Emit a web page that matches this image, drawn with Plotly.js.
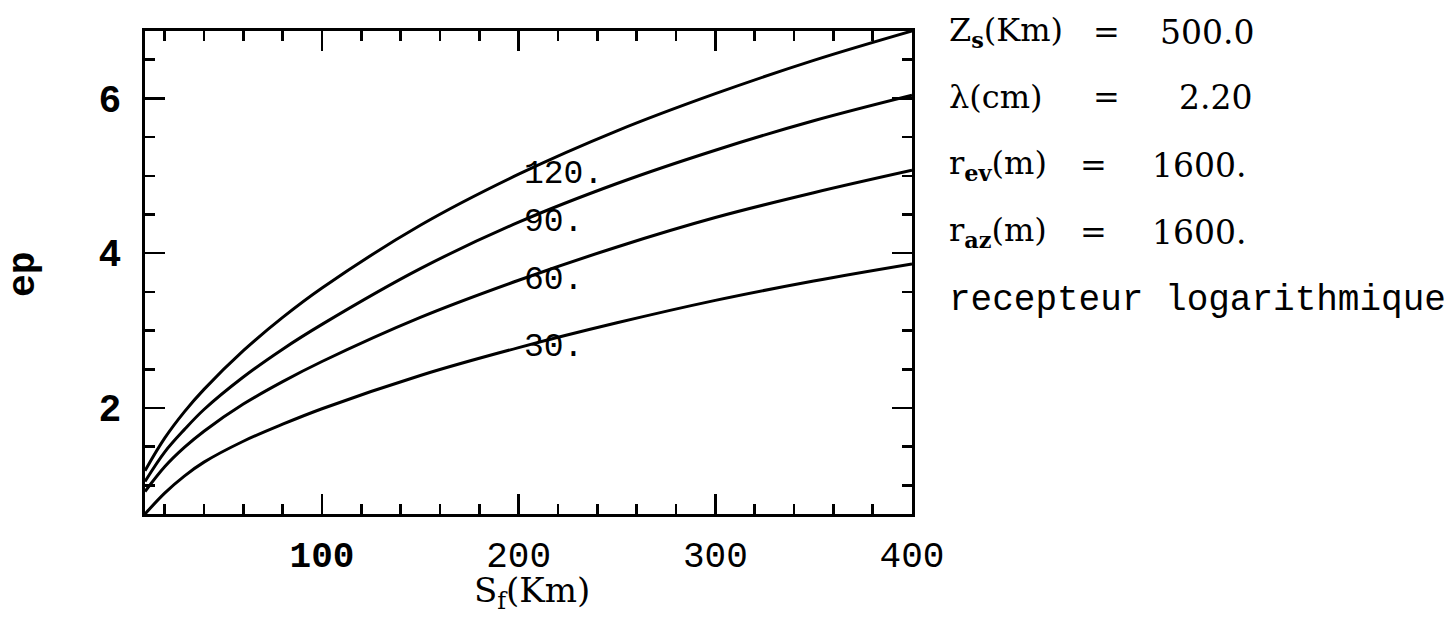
<!DOCTYPE html>
<html>
<head>
<meta charset="utf-8">
<script src="https://cdn.plot.ly/plotly-3.0.1.min.js"></script>
<style>
  html, body { margin: 0; padding: 0; background: #fff; }
  #chart { width: 1452px; height: 618px; }
</style>
</head>
<body>
<div id="chart"></div>
<script>
// Distance along the ground S_f (km)
const sf = [10, 20, 30, 40, 60, 80, 100, 150, 200, 250, 300, 350, 400];

// ep for each incidence setting (curve labels 120., 90., 60., 30.)
const ep120 = [1.19, 1.61, 1.95, 2.24, 2.74, 3.17, 3.55, 4.36, 5.02, 5.58, 6.06, 6.49, 6.87];
const ep90  = [1.05, 1.43, 1.72, 1.98, 2.40, 2.76, 3.08, 3.80, 4.40, 4.90, 5.33, 5.71, 6.04];
const ep60  = [0.92, 1.24, 1.49, 1.70, 2.05, 2.34, 2.60, 3.17, 3.65, 4.08, 4.46, 4.78, 5.07];
const ep30  = [0.63, 0.90, 1.12, 1.30, 1.57, 1.79, 1.99, 2.42, 2.78, 3.10, 3.39, 3.64, 3.86];

const curveLabels = ['120.', '90.', '60.', '30.'];
const curveSeries = [ep120, ep90, ep60, ep30];
const labelAt = 200;  // S_f where each curve carries its label

const xTickVals = [100, 200, 300, 400];
const xTickText = ['<b>100</b>', '200', '300', '400'];
const yTickVals = [2, 4, 6];
const yTickText = ['<b>2</b>', '<b>4</b>', '<b>6</b>'];

// Parameter block printed to the right of the frame
const paramNames  = ['Z<sub><b>s</b></sub>(Km)', 'λ(cm)', 'r<sub><b>ev</b></sub>(m)', 'r<sub><b>az</b></sub>(m)'];
const paramValues = ['500.0', '2.20', '1600.', '1600.'];
const footnote = 'recepteur logarithmique';

const mono = 'Liberation Mono, Courier New, monospace';
const serif = 'DejaVu Serif, Liberation Serif, serif';

const traces = curveSeries.map((ys, i) => ({
  x: sf, y: ys, type: 'scatter', mode: 'lines', name: curveLabels[i],
  line: { color: '#000', width: 3, shape: 'spline', smoothing: 1 },
  hoverinfo: 'skip'
}));

const annotations = [];
const iLab = sf.indexOf(labelAt);
curveSeries.forEach((ys, i) => {
  annotations.push({
    x: labelAt, y: ys[iLab], xref: 'x', yref: 'y',
    text: curveLabels[i], showarrow: false,
    xanchor: 'left', yanchor: 'middle', xshift: 3,
    font: { family: mono, size: 33, color: '#000' }
  });
});

// Parameter lines: name, '=', value placed in columns (page pixels -> paper fractions)
const L = 145, R = 912, T = 31, B = 514;
const px = v => (v - L) / (R - L);
const py = v => (B - v) / (B - T);
const rowY = [32, 97, 165, 232];
const eqX = [1106, 1106, 1093, 1093];
const valX = [1158, 1177, 1150, 1150];
const sideFont = { family: serif, size: 32, color: '#000' };
paramNames.forEach((nm, i) => {
  annotations.push({ x: px(947), y: py(rowY[i]), xref: 'paper', yref: 'paper', text: nm,
    showarrow: false, xanchor: 'left', yanchor: 'middle', font: sideFont });
  annotations.push({ x: px(eqX[i]), y: py(rowY[i]), xref: 'paper', yref: 'paper', text: '=',
    showarrow: false, xanchor: 'center', yanchor: 'middle', font: sideFont });
  annotations.push({ x: px(valX[i]), y: py(rowY[i]), xref: 'paper', yref: 'paper', text: paramValues[i],
    showarrow: false, xanchor: 'left', yanchor: 'middle', font: { family: serif, size: 33, color: '#000' } });
});
annotations.push({ x: px(947), y: py(300), xref: 'paper', yref: 'paper', text: footnote,
  showarrow: false, xanchor: 'left', yanchor: 'middle', font: { family: mono, size: 36, color: '#000' } });

// Axis titles
annotations.push({ x: px(532), y: py(592), xref: 'paper', yref: 'paper', text: 'S<sub>f</sub>(Km)',
  showarrow: false, xanchor: 'center', yanchor: 'middle', font: { family: serif, size: 34, color: '#000' } });
annotations.push({ x: px(23), y: py(274), xref: 'paper', yref: 'paper', text: '<b>ep</b>', textangle: -90,
  showarrow: false, xanchor: 'center', yanchor: 'middle', font: { family: mono, size: 38, color: '#000' } });

const axisCommon = {
  showline: true, linecolor: '#000', linewidth: 3, mirror: 'allticks',
  ticks: 'inside', ticklen: 20, tickwidth: 2.5, tickcolor: '#000',
  showgrid: false, zeroline: false, fixedrange: true
};

const layout = {
  width: 1452, height: 618,
  margin: { l: L, r: 1452 - R, t: T, b: 618 - B },
  paper_bgcolor: '#fff', plot_bgcolor: '#fff',
  showlegend: false,
  xaxis: Object.assign({}, axisCommon, {
    range: [10, 400], tickmode: 'array', tickvals: xTickVals, ticktext: xTickText,
    ticklabelstandoff: 7,
    tickfont: { family: mono, size: 36, color: '#000' },
    minor: { tickmode: 'linear', tick0: 0, dtick: 20, ticks: 'inside', ticklen: 10, tickwidth: 2.5, tickcolor: '#000' }
  }),
  yaxis: Object.assign({}, axisCommon, {
    range: [0.63, 6.87], tickmode: 'array', tickvals: yTickVals, ticktext: yTickText,
    ticklabelstandoff: 13,
    tickfont: { family: mono, size: 38, color: '#000' },
    minor: { tickmode: 'linear', tick0: 0, dtick: 0.5, ticks: 'inside', ticklen: 10, tickwidth: 2.5, tickcolor: '#000' }
  }),
  annotations: annotations
};

Plotly.newPlot('chart', traces, layout, { displayModeBar: false, staticPlot: true });
</script>
</body>
</html>
